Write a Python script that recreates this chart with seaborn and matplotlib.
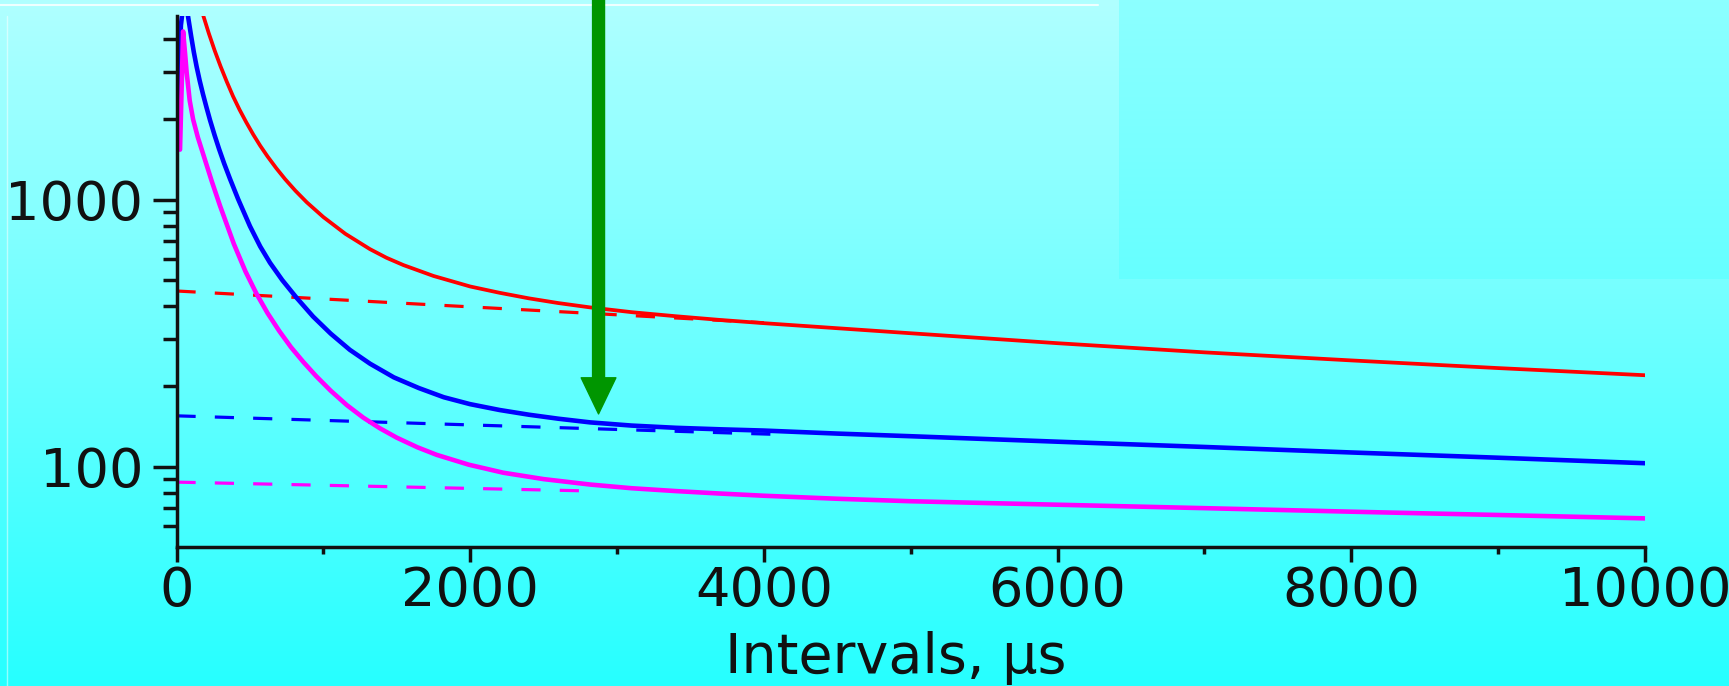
import numpy as np
import matplotlib
matplotlib.use("Agg")
import matplotlib.pyplot as plt
from matplotlib.patches import FancyArrowPatch, ArrowStyle
from matplotlib.ticker import FixedLocator, MultipleLocator, NullFormatter, FuncFormatter
import seaborn as sns

# ---- measured decay curves (interval in microseconds, counts) ----
interval_red = [0, 60, 120, 150, 183, 220, 260, 300, 342, 385, 430, 475, 523, 570, 620, 680,
                740, 810, 887, 1000, 1150, 1317, 1430, 1545, 1750, 2000, 2200, 2400, 2600,
                2816, 3100, 3400, 3700, 4000, 4500, 5000, 6000, 7000, 8000, 9000, 10000]
counts_red = [11600, 8540, 6420, 5610, 4880, 4200, 3620, 3160, 2770, 2440, 2170, 1950, 1753,
              1593, 1452, 1311, 1193, 1080, 978, 861, 745, 653, 606, 569, 518, 473, 448, 427,
              410, 395, 379, 366, 354.5, 344.7, 330, 316, 290, 268, 250, 234, 220]

interval_blue = [15, 30, 50, 75, 100, 118, 137, 158, 180, 204, 228, 260, 290, 325, 364, 420,
                 500, 570, 637, 720, 818, 930, 1050, 1180, 1318, 1480, 1650, 1820, 1998, 2200,
                 2400, 2600, 2816, 3100, 3400, 3700, 4000, 4500, 5000, 6000, 7000, 8000, 9000,
                 10000]
counts_blue = [2400, 4500, 5600, 5000, 4090, 3570, 3150, 2790, 2490, 2220, 1989, 1740, 1548,
               1364, 1198, 1004, 796, 668, 580, 500, 429, 365, 315, 274, 243, 216, 197, 182,
               171.5, 163, 156.5, 151.2, 146.5, 142.5, 139.8, 138, 136.5, 133, 130, 124, 118.5,
               113, 108, 103]

interval_magenta = [24, 45, 58, 69, 90, 113, 145, 180, 240, 296, 391, 470, 546, 620, 700, 780,
                    864, 950, 1050, 1160, 1272, 1385, 1500, 1640, 1772, 1990, 2225, 2500, 2816,
                    3100, 3400, 3700, 4000, 4500, 5000, 6000, 7000, 8000, 9000, 10000]
counts_magenta = [1540, 4270, 3550, 3000, 2350, 2000, 1715, 1491, 1173, 950, 682, 538, 443, 376,
                  322, 280, 246.5, 218.6, 192.5, 170, 152.6, 139.2, 128.4, 118.2, 110.7, 101.7,
                  94.9, 89.8, 85.7, 83, 81, 79.3, 77.8, 75.8, 74.2, 72, 69.9, 67.8, 65.9, 64]

# slow-component fits
fit_red_x = [0, 4000]
fit_red = [455, 346]
fit_blue_x = [0, 4100]
fit_blue = [155, 132]
fit_magenta_x = [0, 2850]
fit_magenta = [87.5, 81]

# arrow marking the end of the fast component
arrow_x = 2874
arrow_tip = 157.6

x_ticks = [0, 2000, 4000, 6000, 8000, 10000]
y_ticks = [100, 1000]
x_label = "Intervals, μs"

sns.set_style("ticks")
plt.rcParams['font.family'] = ['DejaVu Sans']

W, H = 1729, 686
fig = plt.figure(figsize=(W / 100, H / 100), dpi=100)

# slide-style gradient background
bg = fig.add_axes([0, 0, 1, 1], zorder=-10)
n = 256
g = np.linspace(0.69, 0.15, n)[:, None] * np.ones((1, 2))
bg.imshow(np.dstack([g, np.ones_like(g), np.ones_like(g)]),
          extent=(0, W, H, 0), aspect='auto', interpolation='bilinear')
g2 = np.linspace(0.55, 0.40, n)[:, None] * np.ones((1, 2))
bg.imshow(np.dstack([g2, np.ones_like(g2), np.ones_like(g2)]),
          extent=(1119, W, 279, 0), aspect='auto', interpolation='bilinear')
bg.plot([0, 1098], [5, 5], color='white', lw=1.5, alpha=0.8)
bg.plot([7, 7], [16, H], color='white', lw=1.0, alpha=0.5)
bg.set_xlim(0, W)
bg.set_ylim(H, 0)
bg.axis('off')

ax = fig.add_axes([176.5 / W, (H - 547) / H, (1645 - 176.5) / W, (547 - 16) / H])
ax.patch.set_visible(False)
ax.set_yscale('log')

dash = (0, (6, 6))
sns.lineplot(x=fit_red_x, y=fit_red, ax=ax, color='#ff0000', lw=2.3, linestyle=dash,
             estimator=None, sort=False)
sns.lineplot(x=fit_blue_x, y=fit_blue, ax=ax, color='#0000ff', lw=2.3, linestyle=dash,
             estimator=None, sort=False)
sns.lineplot(x=fit_magenta_x, y=fit_magenta, ax=ax, color='#ff00ff', lw=2.3, linestyle=dash,
             estimator=None, sort=False)

sns.lineplot(x=interval_red, y=counts_red, ax=ax, color='#ff0000', lw=2.7,
             estimator=None, sort=False)
sns.lineplot(x=interval_blue, y=counts_blue, ax=ax, color='#0000ff', lw=3.3,
             estimator=None, sort=False)
sns.lineplot(x=interval_magenta, y=counts_magenta, ax=ax, color='#ff00ff', lw=3.3,
             estimator=None, sort=False)

ax.set_xlim(0, 10000)
ax.set_ylim(50, 4877)

arrow = FancyArrowPatch(posA=(arrow_x, 8000), posB=(arrow_x, arrow_tip),
                        arrowstyle=ArrowStyle.Simple(head_length=26, head_width=25, tail_width=8.6),
                        mutation_scale=1, color='#009600', shrinkA=0, shrinkB=0,
                        clip_on=False, zorder=6)
ax.add_patch(arrow)

ax.xaxis.set_major_locator(FixedLocator(x_ticks))
ax.xaxis.set_minor_locator(MultipleLocator(1000))
ax.yaxis.set_major_locator(FixedLocator(y_ticks))
ax.yaxis.set_major_formatter(FuncFormatter(lambda v, p: f"{v:g}"))
ax.yaxis.set_minor_locator(FixedLocator([60, 70, 80, 90, 200, 300, 400, 500, 600, 700, 800,
                                         900, 2000, 3000, 4000]))
ax.yaxis.set_minor_formatter(NullFormatter())

for s in ['top', 'right']:
    ax.spines[s].set_visible(False)
for s in ['left', 'bottom']:
    ax.spines[s].set_linewidth(2.5)
    ax.spines[s].set_color('#111111')

ax.tick_params(axis='y', which='major', length=17, width=2.5, direction='out',
               labelsize=39, pad=7, colors='#111111')
ax.tick_params(axis='y', which='minor', length=10, width=2.5, direction='out', colors='#111111')
ax.tick_params(axis='x', which='major', length=11, width=2.5, direction='out',
               labelsize=39, pad=2, colors='#111111')
ax.tick_params(axis='x', which='minor', length=5, width=2.5, direction='out', colors='#111111')

ax.set_ylabel("")
ax.set_xlabel(x_label, fontsize=40, color='#111111', va='baseline')
ax.xaxis.set_label_coords(0.49, -0.2365)

fig.savefig("out.png", dpi=100)
